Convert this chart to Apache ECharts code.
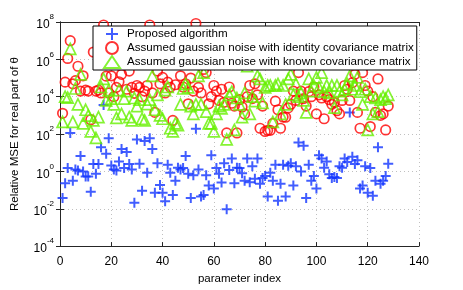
<!DOCTYPE html>
<html>
<head>
<meta charset="utf-8">
<script src="https://cdn.jsdelivr.net/npm/echarts@6/dist/echarts.min.js"></script>
<style>html,body{margin:0;padding:0;background:#fff}#c{width:463px;height:290px}</style>
</head>
<body>
<div id="c"></div>
<script>
// Series names
const seriesNames = [
  'Proposed algorithm',
  'Assumed gaussian noise with identity covariance matrix',
  'Assumed gaussian noise with known covariance matrix'
];
// x: parameter index 1..128
const paramIndex = Array.from({length: 128}, (_, i) => i + 1);
// values, stored as log10(MSE)
const proposedLog10 = [
  -1.43,-0.63,0.18,2.06,-0.5,0.1,0.05,0.83,0.0,-0.27,-0.27,-1.09,0.39,-0.12,0.39,1.29,3.55,0.95,1.77,0.31,
  0.1,0.05,0.53,1.2,0.18,1.04,0.4,0.1,-1.68,1.71,0.41,-1.04,1.63,-0.07,1.77,1.2,-1.14,0.44,-0.73,-1.14,
  -1.6,0.36,-0.07,-1.26,-0.5,0.2,0.1,0.18,0.83,-0.12,-1.43,-0.2,2.28,0.1,-1.35,-1.26,-0.2,-0.75,0.87,-0.92,
  0.18,-0.12,-0.6,0.44,-2.03,0.07,0.69,-0.63,0.2,0.18,-0.1,-0.5,0.69,-0.58,0.27,-0.4,0.69,-0.66,-0.35,-0.24,
  -1.35,-0.07,-0.5,0.36,-1.57,-0.66,0.36,-1.35,0.3,0.44,-0.75,0.27,1.55,0.0,1.38,-1.43,0.36,-0.5,-0.24,-0.92,
  0.87,0.69,0.2,0.53,-0.15,-0.35,-0.3,-0.35,0.27,0.2,0.69,0.5,3.16,0.78,0.4,0.6,-0.92,-0.75,0.27,-1.14,
  0.18,-1.31,-0.5,1.29,-0.66,-0.5,-0.24,0.41
];
const identityLog10 = [
  3.11,4.78,6.05,7.0,4.69,4.86,5.63,4.3,5.12,4.35,4.3,2.77,6.39,4.3,4.35,4.2,7.84,5.1,4.2,5.12,
  4.0,4.5,4.8,5.2,5.8,4.4,5.37,4.5,4.18,4.6,4.5,4.0,4.3,4.6,7.84,4.2,3.16,5.37,4.69,5.03,
  4.2,4.78,4.5,2.73,4.64,5.8,5.12,4.52,4.69,3.62,5.0,4.3,7.92,4.5,4.2,5.46,5.29,3.62,4.0,4.6,
  4.3,3.8,4.4,3.7,2.06,4.52,3.65,3.5,2.06,3.84,3.45,3.08,4.0,4.6,3.9,4.69,4.1,2.31,3.5,2.14,
  2.2,2.2,2.57,3.76,3.3,2.31,2.91,2.9,3.4,3.6,4.3,3.8,5.29,4.3,3.9,3.5,4.27,4.0,4.52,3.08,
  4.1,3.93,2.82,4.0,3.84,3.59,3.7,3.25,3.08,3.8,4.6,4.4,3.8,4.75,5.2,3.16,2.31,5.29,4.6,4.3,
  2.4,4.0,3.16,4.95,3.0,3.08,2.22,3.5
];
const knownLog10 = [
  2.65,4.0,3.95,6.56,2.65,4.44,3.59,5.2,2.57,3.3,2.99,2.14,2.73,1.8,2.91,4.52,4.95,3.8,4.35,3.9,
  3.59,2.87,4.35,3.08,3.9,4.3,2.91,2.73,3.93,3.5,3.84,2.82,2.73,3.6,3.84,5.12,3.3,4.1,3.0,2.82,
  4.35,4.52,2.31,2.14,2.57,2.48,3.59,4.44,4.69,4.5,3.5,3.08,3.59,5.12,3.59,5.29,3.2,2.57,2.57,2.14,
  3.08,3.5,3.38,3.59,1.71,4.1,4.27,2.22,3.93,3.59,2.91,4.2,5.63,3.08,4.0,3.76,5.12,4.95,3.67,4.5,
  4.6,4.6,2.65,4.6,4.69,3.08,4.6,3.59,4.95,5.2,4.1,4.69,4.0,4.2,3.8,3.16,4.95,4.3,4.6,5.03,
  4.5,5.29,4.27,4.6,4.2,4.6,3.42,4.6,4.3,4.1,4.4,4.69,5.12,4.4,4.6,5.03,4.27,3.59,4.4,2.22,
  4.0,3.08,3.93,3.2,3.84,4.0,3.9,4.1
];
const xTicks = [0, 20, 40, 60, 80, 100, 120, 140];
const yTickExponents = [-4, -2, 0, 2, 4, 6, 8];

const toPoints = arr => arr.map((v, i) => [paramIndex[i], Math.pow(10, v)]);

const FONT = 'Liberation Sans';
const AXIS_COLOR = '#262626';
const GRID = {left: 60, right: 44, top: 22, bottom: 33};

const supLabel = v => {
  const e = Math.round(Math.log10(v));
  return '{b|10}{s|' + e + '}';
};
const supRich = {
  b: {fontFamily: FONT, fontSize: 12, color: '#000', lineHeight: 18, verticalAlign: 'bottom'},
  s: {fontFamily: FONT, fontSize: 8, color: '#000', lineHeight: 18, verticalAlign: 'top'}
};

const chart = echarts.init(document.getElementById('c'), null, {renderer: 'canvas'});
chart.setOption({
  animation: false,
  backgroundColor: '#fff',
  grid: GRID,
  legend: {
    zlevel: 1, z: 20,
    orient: 'vertical',
    left: 93,
    top: 26,
    backgroundColor: '#fff',
    borderColor: '#000',
    borderWidth: 1,
    borderRadius: 0,
    padding: [1, 3, 1, 10],
    itemGap: 0,
    itemWidth: 16,
    itemHeight: 12,
    textStyle: {fontFamily: FONT, fontSize: 11.6, lineHeight: 14, color: '#000', padding: [0, 0, 0, 2]},
    data: seriesNames
  },
  xAxis: [{
    type: 'value', min: 0, max: 140, interval: 20,
    name: 'parameter index', nameLocation: 'middle', nameGap: 23,
    nameTextStyle: {fontFamily: FONT, fontSize: 11.5, color: '#000'},
    axisLine: {show: true, lineStyle: {color: AXIS_COLOR, width: 1}},
    axisTick: {show: true, inside: true, length: 4, lineStyle: {color: AXIS_COLOR}},
    axisLabel: {fontFamily: FONT, fontSize: 12, color: '#000', margin: 10},
    splitLine: {show: true, lineStyle: {color: '#c0c0c0', type: [1, 3], width: 1}}
  }, {
    type: 'value', min: 0, max: 140, interval: 20, position: 'top',
    axisLine: {show: true, lineStyle: {color: AXIS_COLOR, width: 1}},
    axisTick: {show: true, inside: true, length: 4, lineStyle: {color: AXIS_COLOR}},
    axisLabel: {show: false}, splitLine: {show: false}
  }],
  yAxis: [{
    type: 'log', logBase: 10, min: 1e-4, max: 1e8, interval: 2,
    name: 'Relative MSE for real part of θ', nameLocation: 'middle', nameGap: 39,
    nameTextStyle: {fontFamily: FONT, fontSize: 11.5, color: '#000'},
    axisLine: {show: true, lineStyle: {color: AXIS_COLOR, width: 1}},
    axisTick: {show: true, inside: true, length: 4, lineStyle: {color: AXIS_COLOR}},
    axisLabel: {formatter: supLabel, rich: supRich, margin: 6},
    splitLine: {show: true, lineStyle: {color: '#c0c0c0', type: [1, 3], width: 1}}
  }, {
    type: 'log', logBase: 10, min: 1e-4, max: 1e8, interval: 2, position: 'right',
    axisLine: {show: true, lineStyle: {color: AXIS_COLOR, width: 1}},
    axisTick: {show: true, inside: true, length: 4, lineStyle: {color: AXIS_COLOR}},
    axisLabel: {show: false}, splitLine: {show: false}
  }],
  series: [{
    name: seriesNames[0], type: 'scatter',
    data: toPoints(proposedLog10),
    symbol: 'path://M0,5L10,5M5,0L5,10', symbolSize: 10,
    itemStyle: {color: 'rgba(0,0,0,0)', borderColor: '#1234ff', borderWidth: 2},
    z: 2
  }, {
    name: seriesNames[1], type: 'scatter',
    data: toPoints(identityLog10),
    symbol: 'circle', symbolSize: 9.5,
    itemStyle: {color: 'rgba(0,0,0,0)', borderColor: '#ff0000', borderWidth: 1.7},
    z: 3
  }, {
    name: seriesNames[2], type: 'scatter',
    data: toPoints(knownLog10),
    symbol: 'triangle', symbolSize: 11,
    itemStyle: {color: 'rgba(0,0,0,0)', borderColor: '#66f000', borderWidth: 1.7},
    z: 4
  }]
});
</script>
</body>
</html>
